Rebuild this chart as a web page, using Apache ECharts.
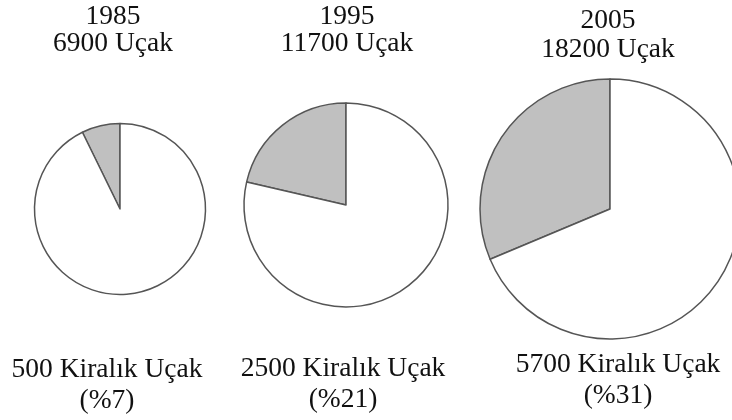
<!DOCTYPE html>
<html>
<head>
<meta charset="utf-8">
<script src="https://cdn.jsdelivr.net/npm/echarts@6/dist/echarts.min.js"></script>
<style>
  html, body { margin: 0; padding: 0; background: #fff; }
  #box { width: 732px; height: 420px; }
</style>
</head>
<body>
<div id="box"></div>
<script>
// veriler
var years = ['1985', '1995', '2005'];
var totalPlanes = [6900, 11700, 18200];
var rentedPlanes = [500, 2500, 5700];
var rentedPct = [7, 21, 31];

// yerlesim (piksel)
var pieCenters = [[120, 209], [346, 205], [610, 209]];
var pieRadius = [85.5, 102, 130];
var topLabelPos = [[113, 17, 44], [347, 17, 44], [608, 21, 50]];
var bottomLabelPos = [[107, 370, 401], [343, 369, 400], [618, 365, 396]];

var FONT = '"Liberation Serif", "Times New Roman", serif';

function textEl(str, x, y) {
    return {
        type: 'text',
        style: {
            text: str,
            x: x,
            y: y,
            fill: '#111',
            font: '27.5px ' + FONT,
            textAlign: 'center',
            textVerticalAlign: 'middle'
        }
    };
}

var series = [];
var graphics = [];

for (var i = 0; i < years.length; i++) {
    series.push({
        type: 'pie',
        center: pieCenters[i],
        radius: pieRadius[i],
        startAngle: 90,
        clockwise: false,
        silent: true,
        label: { show: false },
        labelLine: { show: false },
        emphasis: { disabled: true },
        itemStyle: {
            borderColor: '#555',
            borderWidth: 1.5
        },
        data: [
            { name: 'Kiralık', value: rentedPlanes[i], itemStyle: { color: '#c0c0c0' } },
            { name: 'Diğer', value: totalPlanes[i] - rentedPlanes[i], itemStyle: { color: '#ffffff' } }
        ]
    });

    var t = topLabelPos[i];
    graphics.push(textEl(years[i], t[0], t[1]));
    graphics.push(textEl(totalPlanes[i] + ' Uçak', t[0], t[2]));

    var b = bottomLabelPos[i];
    graphics.push(textEl(rentedPlanes[i] + ' Kiralık Uçak', b[0], b[1]));
    graphics.push(textEl('(%' + rentedPct[i] + ')', b[0], b[2]));
}

var myChart = echarts.init(document.getElementById('box'));
myChart.setOption({
    backgroundColor: '#fff',
    animation: false,
    tooltip: { show: false },
    series: series,
    graphic: graphics
});
</script>
</body>
</html>
